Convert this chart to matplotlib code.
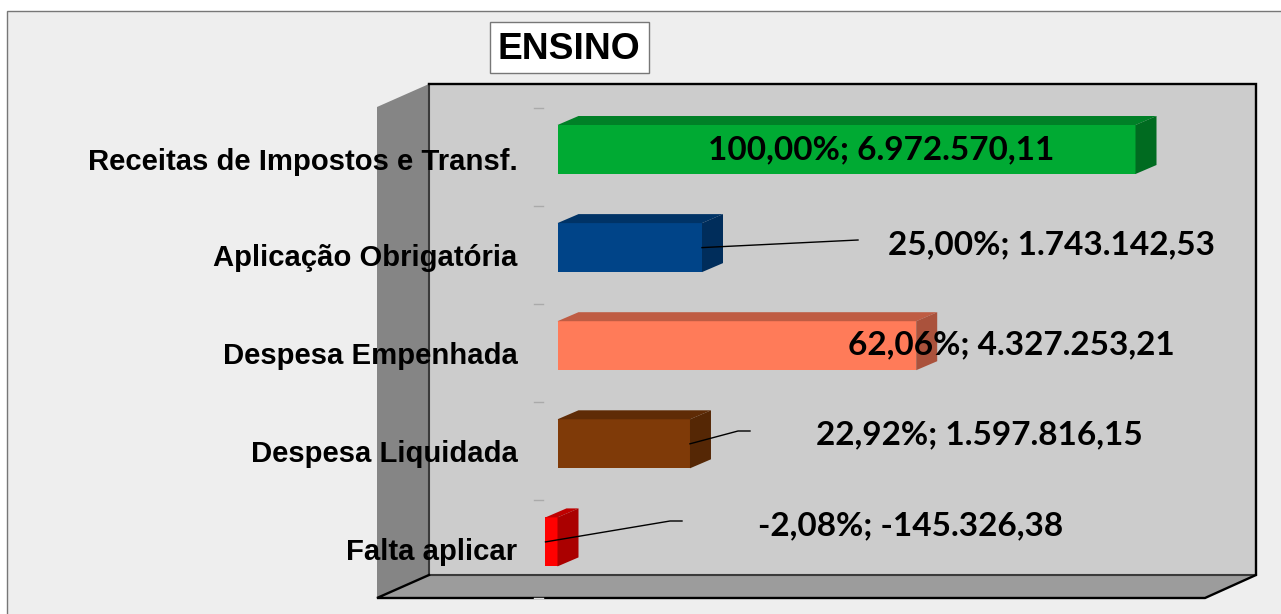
import matplotlib
matplotlib.use("Agg")
import matplotlib.pyplot as plt
from matplotlib.patches import Polygon, Rectangle

# ---- data ----
categories = ["Receitas de Impostos e Transf.", "Aplicação Obrigatória",
              "Despesa Empenhada", "Despesa Liquidada", "Falta aplicar"]
percent = [100.00, 25.00, 62.06, 22.92, -2.08]
amounts = ["6.972.570,11", "1.743.142,53", "4.327.253,21", "1.597.816,15", "-145.326,38"]
front_colors = ["#00AA33", "#004488", "#FF7B59", "#7F3A08", "#FF0000"]
top_colors = ["#008027", "#003366", "#BF5C43", "#5F2B06", "#BF0000"]
side_colors = ["#006B20", "#002D5B", "#AA523C", "#552705", "#AA0000"]

W, H = 1281, 614
fig = plt.figure(figsize=(W / 100, H / 100), dpi=100, facecolor="white")

# pixel-space layer for the chart frame and walls
bg = fig.add_axes([0, 0, 1, 1])
bg.set_xlim(0, W); bg.set_ylim(H, 0); bg.axis("off")
bg.add_patch(Rectangle((6.5, 10.5), W, H, fc="#EEEEEE", ec="#777777", lw=1))
bg.add_patch(Polygon([(429, 84), (1256, 84), (1256, 575), (429, 575)], fc="#CCCCCC", ec="none"))
bg.add_patch(Polygon([(377, 107), (429, 84), (429, 575), (377, 598)], fc="#858585", ec="none"))
bg.add_patch(Polygon([(377, 598), (429, 575), (1256, 575), (1205, 598)], fc="#9C9C9C", ec="none"))
bg.plot([429, 429], [84, 575], color="#3A3A3A", lw=1.5)
bg.plot([429, 1256], [575, 575], color="#3A3A3A", lw=1.5)
bg.plot([429, 1256, 1256, 1205, 377, 429], [84, 84, 575, 598, 598, 575],
        color="black", lw=1.7, solid_joinstyle="miter")
for k in range(5):
    bg.plot([534, 543], [108 + 98 * k] * 2, color="#AAAAAA", lw=1)
bg.plot([534, 543], [598, 598], color="#DDDDDD", lw=1)

# data axes over the chart region: 5.78 px per percent, 98.1 px per category
X0, PX = 557.5, 5.78
Y0, PY = 149.5, 98.1
L, R, T, B = 429, 1256, 84, 598
ax = fig.add_axes([L / W, 1 - B / H, (R - L) / W, (B - T) / H])
ax.set_xlim((L - X0) / PX, (R - X0) / PX)
ax.set_ylim((B - Y0) / PY, (T - Y0) / PY)
ax.axis("off"); ax.patch.set_alpha(0)

bar_h = 49 / PY
dx, dy = 21 / PX, 9 / PY
for i, (v, fc, tc, sc) in enumerate(zip(percent, front_colors, top_colors, side_colors)):
    y0, y1 = i - bar_h / 2, i + bar_h / 2
    lo, hi = min(v, 0), max(v, 0)
    ax.barh(i, v, height=bar_h, color=fc, edgecolor="none", clip_on=False)
    ax.add_patch(Polygon([(lo, y0), (lo + dx, y0 - dy), (hi + dx, y0 - dy), (hi, y0)],
                         fc=tc, ec="none", clip_on=False))
    ax.add_patch(Polygon([(hi, y0), (hi + dx, y0 - dy), (hi + dx, y1 - dy), (hi, y1)],
                         fc=sc, ec="none", clip_on=False))

# text + leader lines in pixel space (overlay)
fg = fig.add_axes([0, 0, 1, 1])
fg.set_xlim(0, W); fg.set_ylim(H, 0); fg.axis("off"); fg.patch.set_alpha(0)

label_xy = [(881, 150), (1051, 245), (1011, 345), (979, 435), (911, 526)]
leaders = [None,
           [(858, 240)],
           None,
           [(738, 431), (750, 431)],
           [(670, 521), (682, 521)]]
label_y = [161.5, 258.5, 356.5, 453.5, 551.5]
for i, cat in enumerate(categories):
    fg.text(517.5, label_y[i], cat, ha="right", va="center", fontsize=21.1,
            fontweight="bold", family="Liberation Sans", color="black")
    fg.text(label_xy[i][0], label_xy[i][1], f"{percent[i]:.2f}".replace(".", ",") + "%; " + amounts[i],
            ha="center", va="center", fontsize=24, fontweight="bold", family="Lato", color="black")
    if leaders[i]:
        sx = X0 + (percent[i] * PX if percent[i] > 0 else -12)
        sy = Y0 + i * PY
        pts = [(sx, sy)] + leaders[i]
        fg.plot([p[0] for p in pts], [p[1] for p in pts], color="black", lw=1)

fg.add_patch(Rectangle((489.5, 21.5), 159, 51, fc="white", ec="#777777", lw=1))
fg.text(569, 49.5, "ENSINO", ha="center", va="center", fontsize=26.7, fontweight="bold",
        family="Liberation Sans", color="black")

fig.savefig("out.png", dpi=100)
